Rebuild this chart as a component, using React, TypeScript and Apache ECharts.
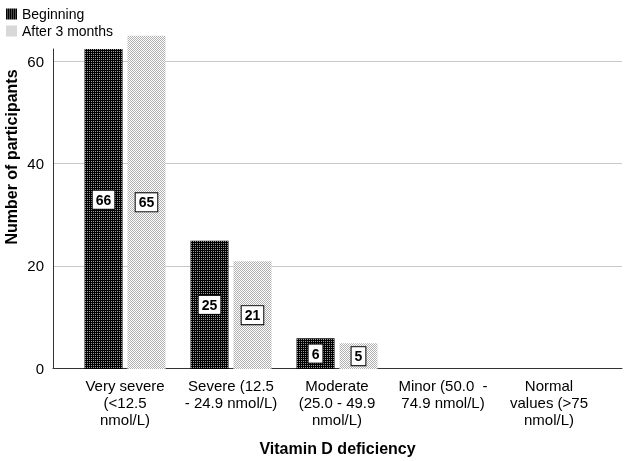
import React, { useEffect, useRef } from "react";
import * as echarts from "echarts";

const categories = [
  "Very severe\n(<12.5\nnmol/L)",
  "Severe (12.5\n- 24.9 nmol/L)",
  "Moderate\n(25.0 - 49.9\nnmol/L)",
  "Minor (50.0  -\n74.9 nmol/L)",
  "Normal\nvalues (>75\nnmol/L)",
];
const seriesNames = ["Beginning", "After 3 months"];
// bar heights as drawn in the picture
const beginningBars = [62.4, 25, 6, 0, 0];
const afterBars = [65, 21, 5, 0, 0];
// the counts printed in the boxes
const beginningLabels = [66, 25, 6, 0, 0];
const afterLabels = [65, 21, 5, 0, 0];
const yTicks = [0, 20, 40, 60];

const FONT = 'Arial, "Liberation Sans", sans-serif';

function makePattern(bg: string, dot: string, checker: boolean) {
  const c = document.createElement("canvas");
  c.width = 2;
  c.height = 2;
  const ctx = c.getContext("2d")!;
  ctx.fillStyle = bg;
  ctx.fillRect(0, 0, 2, 2);
  ctx.fillStyle = dot;
  if (checker) {
    ctx.fillRect(0, 0, 1, 1);
    ctx.fillRect(1, 1, 1, 1);
  } else {
    ctx.fillRect(1, 1, 1, 1);
  }
  return { image: c, repeat: "repeat" as const };
}

export default function App() {
  const ref = useRef<HTMLDivElement>(null);
  useEffect(() => {
    if (!ref.current) return;
    const chart = echarts.init(ref.current, undefined, { renderer: "svg" });
    const dark = makePattern("#000000", "#9a9a9a", false);
    const light = makePattern("#ffffff", "#b0b0b0", true);
    const labelData = (arr: number[]) =>
      arr.map((v) => (v > 0 ? { value: v } : { value: 0, label: { show: false } }));
    const boxLabel = {
      show: true,
      position: "inside" as const,
      formatter: "{c}",
      backgroundColor: "#ffffff",
      borderColor: "#000000",
      borderWidth: 1,
      padding: [3, 3, 1, 3],
      color: "#000",
      fontWeight: "bold" as const,
      fontSize: 14,
      fontFamily: FONT,
    };
    const yMaxFrame = 62.4;
    chart.setOption({
      animation: false,
      textStyle: { fontFamily: FONT },
      legend: {
        data: seriesNames,
        orient: "vertical",
        left: 6,
        top: 7,
        padding: 0,
        itemWidth: 11,
        itemHeight: 11,
        itemGap: 3,
        icon: "rect",
        textStyle: { fontSize: 14, color: "#000", fontFamily: FONT },
      },
      grid: [
        { left: 72, right: 33, top: 10, bottom: 92 },
        { left: 53, right: 13, top: 49, bottom: 92 },
      ],
      xAxis: [
        {
          gridIndex: 0,
          type: "category",
          data: categories,
          axisLine: { show: false },
          axisTick: { show: false },
          axisLabel: {
            interval: 0,
            fontSize: 15,
            lineHeight: 17,
            color: "#000",
            margin: 8,
            fontFamily: FONT,
          },
        },
        { gridIndex: 0, type: "category", data: categories, show: false },
        {
          gridIndex: 1,
          type: "value",
          min: 0,
          max: 1,
          axisLine: { show: true, lineStyle: { color: "#333", width: 1 } },
          axisTick: { show: false },
          axisLabel: { show: false },
          splitLine: { show: false },
          name: "Vitamin D deficiency",
          nameLocation: "middle",
          nameGap: 72,
          nameTextStyle: { fontSize: 16, fontWeight: "bold", color: "#000", fontFamily: FONT },
        },
      ],
      yAxis: [
        { gridIndex: 0, type: "value", min: 0, max: 70, show: false },
        {
          gridIndex: 1,
          type: "value",
          min: yTicks[0],
          max: yMaxFrame,
          interval: 20,
          axisLine: { show: true, lineStyle: { color: "#333", width: 1 } },
          axisTick: { show: false },
          axisLabel: {
            fontSize: 15,
            color: "#000",
            margin: 9,
            showMaxLabel: false,
            fontFamily: FONT,
          },
          splitLine: {
            show: true,
            lineStyle: {
              color: ["#c8c8c8", "#c8c8c8", "#c8c8c8", "#c8c8c8", "rgba(0,0,0,0)"],
              width: 1,
            },
          },
        },
      ],
      graphic: [
        {
          type: "text",
          x: 11,
          y: 157,
          rotation: Math.PI / 2,
          style: {
            text: "Number of participants",
            fill: "#000",
            font: `bold 16px ${FONT}`,
            align: "center",
            verticalAlign: "middle",
          },
        },
      ],
      series: [
        {
          name: seriesNames[0],
          type: "bar",
          xAxisIndex: 0,
          yAxisIndex: 0,
          data: beginningBars,
          barWidth: 38,
          barGap: "13%",
          clip: false,
          itemStyle: { color: dark },
        },
        {
          name: seriesNames[1],
          type: "bar",
          xAxisIndex: 0,
          yAxisIndex: 0,
          data: afterBars,
          barWidth: 38,
          barGap: "13%",
          clip: false,
          itemStyle: { color: light },
        },
        {
          name: "Beginning label",
          type: "bar",
          xAxisIndex: 1,
          yAxisIndex: 0,
          data: labelData(beginningLabels),
          barWidth: 38,
          barGap: "13%",
          clip: false,
          z: 5,
          itemStyle: { color: "rgba(0,0,0,0)" },
          label: boxLabel,
        },
        {
          name: "After label",
          type: "bar",
          xAxisIndex: 1,
          yAxisIndex: 0,
          data: labelData(afterLabels),
          barWidth: 38,
          barGap: "13%",
          clip: false,
          z: 5,
          itemStyle: { color: "rgba(0,0,0,0)" },
          label: boxLabel,
        },
      ],
    });
    return () => chart.dispose();
  }, []);
  return (
    <div
      ref={ref}
      style={{ position: "fixed", left: 0, top: 0, width: 635, height: 461 }}
    />
  );
}
